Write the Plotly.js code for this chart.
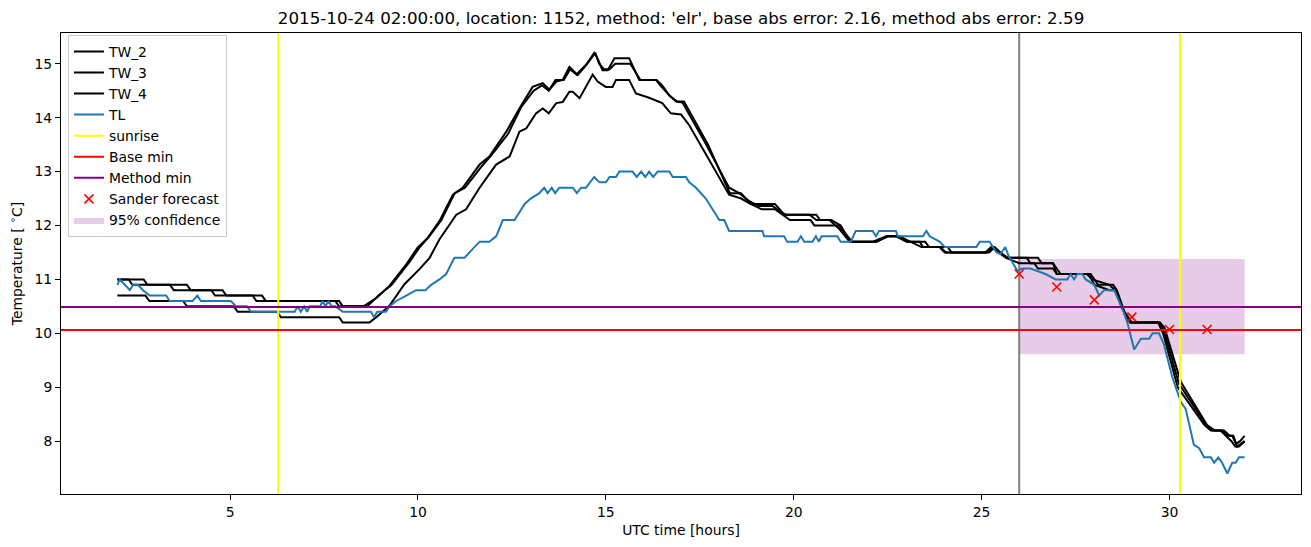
<!DOCTYPE html>
<html><head><meta charset="utf-8">
<script src="https://cdn.plot.ly/plotly-3.0.1.min.js"></script>
<style>html,body{margin:0;padding:0;background:#fff}</style>
</head><body><div id="chart" style="width:1311px;height:547px"></div>
<script>
// ---- data (hours UTC, temperature °C) ----
const tw2Hours = [2,2.3,2.4,3.4,3.5,4.5,4.6,5.6,5.7,7.8,7.9,8.55,8.9,9.24,9.69,9.99,10.26,10.57,10.93,11.19,11.64,11.9,12.35,12.7,13.05,13.32,13.5,13.68,13.85,14.03,14.25,14.47,14.69,14.78,14.91,15.05,15.23,15.62,15.89,16.33,16.45,16.64,16.87,17.04,17.67,18.28,18.55,18.82,19.08,19.44,19.7,19.8,20.42,20.6,20.95,21.22,21.49,22.11,22.46,22.73,23.0,23.35,23.44,23.88,24.02,25.13,25.3,25.48,25.66,26.5,26.6,26.9,27.0,27.85,28.0,28.4,28.57,28.75,28.97,29.72,29.85,30.25,30.96,31.14,31.4,31.53,31.67,31.77,31.88,32.0];
const tw2Values = [11.0,11.0,10.9,10.9,10.8,10.8,10.7,10.7,10.6,10.6,10.5,10.5,10.66,10.88,11.28,11.59,11.77,12.08,12.57,12.7,13.13,13.28,13.74,14.17,14.57,14.64,14.52,14.67,14.7,14.94,14.79,14.97,15.2,15.1,14.88,14.88,15.1,15.1,14.7,14.7,14.6,14.45,14.3,14.28,13.5,12.7,12.6,12.45,12.36,12.36,12.23,12.2,12.2,12.1,12.1,11.93,11.7,11.7,11.8,11.8,11.7,11.7,11.6,11.6,11.5,11.5,11.6,11.5,11.4,11.4,11.3,11.3,11.1,11.1,10.9,10.8,10.8,10.45,10.2,10.2,10.05,9.07,8.31,8.2,8.2,8.1,8.1,7.95,8.0,8.1];

const tw3Hours = [2,2.7,2.8,3.85,3.95,4.8,4.9,5.85,5.95,7.9,8.0,8.65,8.95,9.3,9.75,10.05,10.3,10.62,10.98,11.25,11.7,11.95,12.4,12.75,13.08,13.3,13.48,13.66,13.88,14.05,14.22,14.5,14.72,14.82,14.95,15.1,15.25,15.65,15.92,16.35,16.5,16.7,16.9,17.08,17.72,18.3,18.6,18.85,19.1,19.5,19.75,20.6,20.7,21.0,21.25,21.5,22.2,22.5,22.8,23.05,23.5,23.6,24.1,24.2,25.2,25.35,25.5,25.7,26.2,26.3,26.9,27.0,27.1,27.9,28.0,28.1,28.5,28.6,28.8,29.0,29.75,29.87,30.3,31.0,31.2,31.45,31.6,31.7,31.8,32.0];
const tw3Values = [11.0,11.0,10.9,10.9,10.8,10.8,10.7,10.7,10.6,10.6,10.5,10.5,10.7,10.9,11.3,11.6,11.8,12.1,12.6,12.7,13.1,13.3,13.7,14.2,14.5,14.6,14.5,14.7,14.7,14.9,14.8,15.0,15.2,15.0,14.9,14.9,15.0,15.0,14.7,14.7,14.6,14.4,14.3,14.3,13.5,12.6,12.6,12.4,12.4,12.4,12.2,12.2,12.1,12.1,12.0,11.7,11.7,11.8,11.8,11.7,11.7,11.6,11.6,11.5,11.5,11.6,11.5,11.4,11.4,11.3,11.3,11.2,11.1,11.1,11.0,10.9,10.9,10.8,10.4,10.2,10.2,10.1,9.1,8.3,8.2,8.2,8.1,8.1,7.9,8.0];

const tw4Hours = [2,2.75,2.85,3.75,3.85,5.1,5.2,6.25,6.35,7.9,8.0,8.71,8.89,9.24,9.64,10.04,10.31,10.57,11.02,11.28,11.64,12.08,12.44,12.7,12.88,13.14,13.32,13.48,13.68,13.85,14.03,14.12,14.3,14.65,14.78,15.0,15.18,15.27,15.62,15.8,16.15,16.5,16.73,17.0,17.22,18.28,18.6,18.85,19.15,19.5,19.9,20.45,20.55,21.2,21.55,22.2,22.5,22.8,23.1,23.4,23.9,24.05,25.1,25.25,25.45,25.65,26.0,26.4,26.5,26.9,27.0,27.8,27.95,28.4,28.55,28.72,28.95,29.7,29.83,30.22,30.93,31.1,31.35,31.5,31.65,31.75,31.85,32.0];
const tw4Values = [10.7,10.7,10.6,10.6,10.5,10.5,10.4,10.4,10.3,10.3,10.2,10.2,10.3,10.51,10.91,11.19,11.4,11.74,12.2,12.3,12.7,13.13,13.28,13.74,13.8,14.08,14.17,14.08,14.27,14.29,14.48,14.48,14.36,14.8,14.67,14.57,14.57,14.7,14.7,14.45,14.37,14.27,14.08,14.06,13.86,12.57,12.5,12.4,12.3,12.3,12.1,12.1,12.0,12.0,11.7,11.7,11.8,11.8,11.7,11.6,11.6,11.5,11.5,11.6,11.5,11.4,11.3,11.3,11.2,11.2,11.1,11.1,11.0,10.9,10.8,10.5,10.2,10.2,10.0,9.0,8.3,8.2,8.2,8.1,8.0,7.9,7.9,8.0];

const tlHours = [2.0,2.06,2.2,2.33,2.42,2.55,2.68,2.86,3.3,3.39,4.0,4.13,4.22,5.02,5.16,5.45,5.56,6.72,6.8,6.88,6.97,7.05,7.12,7.4,7.46,7.54,7.62,7.7,7.8,8.0,8.75,8.83,8.92,9.15,9.24,9.42,9.69,9.95,10.2,10.35,10.57,10.75,10.97,11.24,11.37,11.64,11.9,12.08,12.26,12.57,12.84,13.0,13.23,13.36,13.45,13.56,13.65,13.76,14.12,14.23,14.34,14.47,14.69,14.83,15.0,15.1,15.27,15.36,15.71,15.82,15.94,16.05,16.15,16.26,16.38,16.69,16.78,17.13,17.22,17.4,17.66,18.02,18.15,18.28,19.17,19.21,19.74,19.83,20.1,20.19,20.28,20.5,20.59,20.67,20.74,21.16,21.25,21.52,21.65,22.1,22.19,22.27,22.72,22.77,23.44,23.53,23.62,23.88,24.02,24.86,24.95,25.21,25.3,25.4,25.5,25.63,25.71,25.95,26.08,26.3,26.7,26.97,27.28,27.37,27.46,27.55,27.68,27.77,28.0,28.13,28.26,28.53,28.75,28.88,29.06,29.24,29.46,29.55,29.72,29.85,30.07,30.3,30.43,30.65,30.79,30.92,31.1,31.19,31.3,31.4,31.54,31.67,31.76,31.85,32.0];
const tlValues = [10.9,11.0,10.9,10.8,10.9,10.9,10.8,10.7,10.7,10.6,10.6,10.7,10.6,10.6,10.5,10.5,10.4,10.4,10.5,10.4,10.5,10.4,10.5,10.5,10.6,10.5,10.6,10.5,10.5,10.4,10.4,10.3,10.4,10.4,10.5,10.6,10.7,10.8,10.8,10.9,11.0,11.1,11.4,11.4,11.5,11.7,11.7,11.8,12.1,12.1,12.4,12.5,12.6,12.7,12.6,12.7,12.6,12.7,12.7,12.6,12.7,12.7,12.9,12.8,12.8,12.9,12.9,13.0,13.0,12.9,13.0,12.9,13.0,12.9,13.0,13.0,12.9,12.9,12.8,12.7,12.5,12.1,12.1,11.9,11.9,11.8,11.8,11.7,11.7,11.8,11.7,11.7,11.8,11.7,11.8,11.8,11.7,11.7,11.9,11.9,11.8,11.9,11.9,11.8,11.8,11.9,11.8,11.7,11.6,11.6,11.7,11.7,11.6,11.5,11.47,11.6,11.45,11.16,11.2,11.2,11.1,11.0,11.0,11.1,11.0,11.1,11.1,11.0,10.9,10.7,10.8,10.8,10.45,10.2,9.7,9.9,9.9,10.0,10.0,9.8,9.2,8.73,8.6,7.93,7.87,7.7,7.7,7.6,7.7,7.6,7.4,7.6,7.6,7.7,7.7];

const sunriseHours = [6.28, 30.28];
const forecastStartHour = 26;
const baseMin = 10.06;
const methodMin = 10.49;
const forecastHours = [26, 27, 28, 29, 30, 31];
const forecastValues = [11.10, 10.86, 10.62, 10.30, 10.07, 10.07];
const confHours = [26, 32];
const confLow = 9.61;
const confHigh = 11.38;

const xTicks = [5, 10, 15, 20, 25, 30];
const yTicks = [8, 9, 10, 11, 12, 13, 14, 15];
const xRange = [0.5, 33.5];
const yRange = [7.02, 15.57];

const titleText = "2015-10-24 02:00:00, location: 1152, method: 'elr', base abs error: 2.16, method abs error: 2.59";

// ---- traces ----
const FONT = 'DejaVu Sans, sans-serif';
function vlines(xs) {
  const x = [], y = [];
  xs.forEach((v, i) => { if (i) { x.push(null); y.push(null); } x.push(v, v); y.push(yRange[0], yRange[1]); });
  return {x, y};
}
const sun = vlines(sunriseHours);
const gray = vlines([forecastStartHour]);

const traces = [
  {x: [confHours[0], confHours[1], confHours[1], confHours[0], confHours[0]],
   y: [confLow, confLow, confHigh, confHigh, confLow],
   type: 'scatter', mode: 'lines', fill: 'toself', fillcolor: 'rgba(128,0,128,0.2)',
   line: {width: 0}, name: '95% confidence', legendrank: 9},
  {x: gray.x, y: gray.y, type: 'scatter', mode: 'lines', line: {color: '#808080', width: 2},
   showlegend: false, hoverinfo: 'skip'},
  {x: tw2Hours, y: tw2Values, type: 'scatter', mode: 'lines', name: 'TW_2', line: {color: 'black', width: 2}, legendrank: 1},
  {x: tw3Hours, y: tw3Values, type: 'scatter', mode: 'lines', name: 'TW_3', line: {color: 'black', width: 2}, legendrank: 2},
  {x: tw4Hours, y: tw4Values, type: 'scatter', mode: 'lines', name: 'TW_4', line: {color: 'black', width: 2}, legendrank: 3},
  {x: tlHours, y: tlValues, type: 'scatter', mode: 'lines', name: 'TL', line: {color: '#1f77b4', width: 2}, legendrank: 4},
  {x: sun.x, y: sun.y, type: 'scatter', mode: 'lines', name: 'sunrise', line: {color: '#ffff00', width: 2}, legendrank: 5},
  {x: xRange, y: [baseMin, baseMin], type: 'scatter', mode: 'lines', name: 'Base min', line: {color: '#ff0000', width: 2}, legendrank: 6},
  {x: xRange, y: [methodMin, methodMin], type: 'scatter', mode: 'lines', name: 'Method min', line: {color: '#800080', width: 2}, legendrank: 7},
  {x: forecastHours, y: forecastValues, type: 'scatter', mode: 'markers', name: 'Sander forecast',
   marker: {symbol: 'x-thin', size: 9, color: '#ff0000', line: {color: '#ff0000', width: 1.6}}, legendrank: 8}
];

const axisCommon = {
  showgrid: false, zeroline: false, showline: true, mirror: true,
  linecolor: 'black', linewidth: 1, ticks: 'outside', ticklen: 5, tickwidth: 1,
  tickcolor: 'black', tickfont: {family: FONT, size: 13.9, color: 'black'}
};

const layout = {
  width: 1311, height: 547, autosize: false,
  margin: {l: 61, r: 10, t: 33, b: 53, pad: 0},
  paper_bgcolor: 'white', plot_bgcolor: 'white',
  font: {family: FONT, color: 'black'},
  title: {text: titleText, font: {family: FONT, size: 16.7, color: 'black'},
          x: 0.5195, xanchor: 'center', y: 0.967, yanchor: 'middle'},
  xaxis: Object.assign({}, axisCommon, {range: xRange, tickvals: xTicks, ticktext: xTicks.map(String),
          title: {text: 'UTC time [hours]', font: {family: FONT, size: 13.9, color: 'black'}, standoff: 6}}),
  yaxis: Object.assign({}, axisCommon, {range: yRange, tickvals: yTicks, ticktext: yTicks.map(String),
          title: {text: 'Temperature [ <sup>∘</sup>C]', font: {family: FONT, size: 13.9, color: 'black'}, standoff: 8}}),
  showlegend: true,
  legend: {x: 0.0056, y: 0.996, xanchor: 'left', yanchor: 'top',
           bgcolor: 'rgba(255,255,255,0.8)', bordercolor: '#cccccc', borderwidth: 1,
           font: {family: FONT, size: 13.9, color: 'black'}, tracegroupgap: 0}
};

Plotly.newPlot('chart', traces, layout, {staticPlot: true, displayModeBar: false});
</script></body></html>
